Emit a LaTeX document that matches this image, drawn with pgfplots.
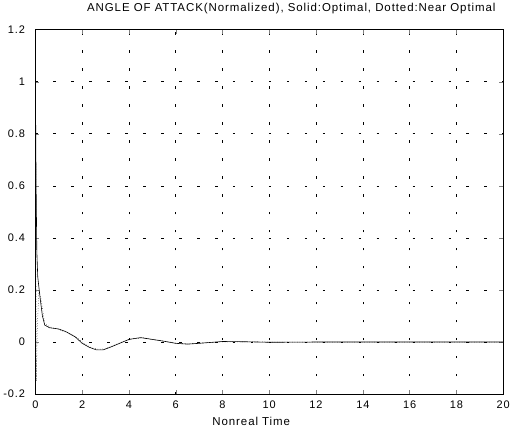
\documentclass[border=0pt]{standalone}
\usepackage{pgfplots}
\pgfplotsset{compat=1.18}
\usepackage{fontspec}
\setmainfont{Liberation Sans}[LetterSpace=8]
\begin{document}
\begin{tikzpicture}
\begin{axis}[
  scale only axis,
  width=467bp, height=364bp,
  xmin=0, xmax=20, ymin=-0.2, ymax=1.2,
  xtick={0,2,...,20},
  ytick={-0.2,0,0.2,0.4,0.6,0.8,1,1.2},
  yticklabels={-0.2,0,0.2,0.4,0.6,0.8,1,1.2},
  /pgf/number format/assume math mode=true,
  tick label style={font=\fontsize{11}{13}\selectfont},
  yticklabel style={xshift=-7bp},
  xticklabel style={yshift=-3bp},
  tick align=inside,
  major tick length=4bp,
  grid=major,
  major grid style={black, line width=0.5pt, dash pattern=on 2.5pt off 15.5pt},
  axis line style={black, line width=0.6pt},
  title={ANGLE OF ATTACK(Normalized), Solid:Optimal, Dotted:Near Optimal},
  title style={font=\fontsize{11.5}{13}\selectfont, yshift=6bp, xshift=22bp},
  xlabel={Nonreal Time},
  xlabel style={font=\fontsize{11.5}{13}\selectfont, yshift=-2bp, xshift=-18bp},
]
\addplot[black, line width=0.6pt] coordinates {
(0,1) (0.03,0.6) (0.06,0.35) (0.1,0.25) (0.2,0.17) (0.3,0.1) (0.4,0.065)
(0.6,0.055) (1,0.05) (1.3,0.04) (1.7,0.02) (2,-0.005) (2.3,-0.02)
(2.6,-0.03) (2.9,-0.03) (3.2,-0.02) (3.6,-0.005) (4,0.01) (4.5,0.017)
(5,0.01) (5.5,0.003) (6,-0.005) (6.5,-0.008) (7,-0.005) (8,0.002)
(9,0.001) (10,-0.001) (12,0) (14,0) (16,0) (18,0) (20,0)
};
\addplot[black, line width=0.5pt, dotted] coordinates {
(0,1.2) (0.01,1.0) (0.02,0.35) (0.04,-0.15) (0.08,0.05) (0.15,0.2) (0.25,0.16) (0.4,0.07)
(0.7,0.055) (1,0.048) (1.4,0.035) (1.8,0.015) (2.1,-0.008) (2.4,-0.022)
(2.7,-0.028) (3,-0.026) (3.3,-0.015) (3.7,0) (4.1,0.012) (4.6,0.016)
(5.1,0.009) (5.6,0.002) (6.1,-0.006) (6.6,-0.007) (7.2,-0.003) (8,0.001)
(9,0.001) (10,0) (12,0) (14,0) (16,0) (18,0) (20,0)
};
\end{axis}
\end{tikzpicture}
\end{document}
